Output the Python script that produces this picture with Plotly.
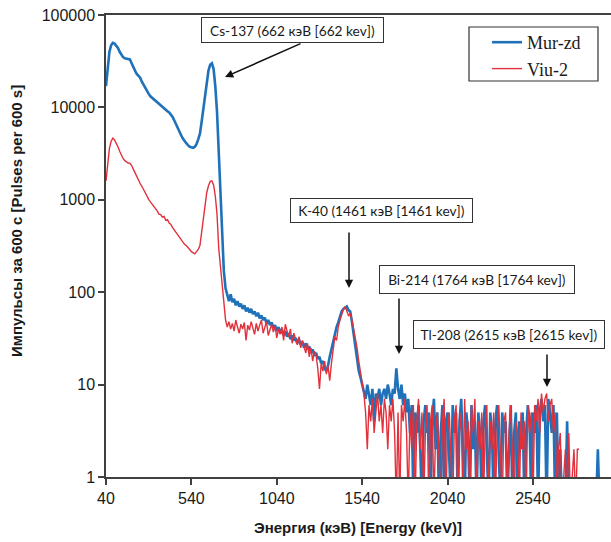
import plotly.graph_objects as go

# ---------------- data ----------------
energy_kev = list(range(40, 2950, 10))   # channel energies, keV

mur_low = [17000, 28000, 40000, 47000, 50000, 49000, 47000, 44000, 40000, 37000,
           35000, 34000, 33500, 33500, 33000, 30000, 27000, 25000, 23000, 22000,
           21000, 19000, 17500, 16000, 15000, 14000, 13200, 12700, 12200, 11700,
           11200, 10800, 10400, 10000, 9700, 9400, 9100, 8800, 8400, 7900,
           7200, 6500, 5900, 5400, 5000, 4600, 4300, 4100, 3900, 3750,
           3700, 3650, 3750, 4000, 4500, 5200, 7000, 10000, 14000, 19500,
           25000, 29000, 30000, 26000, 17000, 9000, 3200, 1100, 330, 170,
           110]
mur_mid = [92, 80, 95, 78, 85, 72, 80, 70, 75, 66,
           72, 62, 68, 60, 66, 58, 62, 55, 60, 52,
           56, 50, 53, 46, 50, 44, 47, 41, 44, 38,
           42, 36, 40, 34, 38, 33, 36, 31, 34, 30,
           32, 28, 31, 27, 29, 25, 28, 24, 26, 22,
           24, 21, 22, 19, 20, 17, 18, 15, 14, 16,
           20, 24, 30, 36, 42, 47, 55, 62, 66, 68,
           70, 64, 62, 48, 35, 25, 18, 14, 12, 10]
mur_high = [9, 7, 10, 8, 6, 9, 4, 8, 7, 9,
            6, 8, 9, 7, 10, 8, 6, 9, 8, 15,
            9, 7, 10, 6, 8, 5, 7, 3, 6, 0,
            5, 3, 6, 2, 0, 4, 6, 3, 5, 0,
            4, 7, 2, 5, 0, 3, 6, 0, 4, 5,
            2, 0, 6, 3, 5, 0, 4, 7, 2, 0,
            5, 3, 0, 6, 2, 4, 0, 5, 3, 0,
            4, 6, 2, 0, 5, 3, 0, 4, 6, 1,
            0, 5, 3, 4, 0, 2, 6, 0, 3, 5,
            0, 4, 2, 5, 0, 3, 6, 4, 0, 5,
            3, 6, 0, 5, 7, 4, 6, 0, 7, 5,
            3, 6, 0, 5, 0, 2, 0, 0, 0, 4,
            0, 0, 0, 1, 0, 0, 0, 0, 0, 0,
            0, 0, 0, 0, 0, 0, 0, 2, 0, 0]

viu_low = [1600, 2600, 3600, 4300, 4650, 4450, 4150, 3750, 3350, 3050,
           2800, 2650, 2550, 2500, 2480, 2350, 2150, 1950, 1780, 1620,
           1500, 1400, 1280, 1180, 1100, 1010, 950, 900, 840, 800,
           760, 700, 690, 650, 660, 600, 610, 560, 540, 500,
           470, 440, 420, 400, 370, 350, 330, 320, 300, 290,
           275, 265, 260, 275, 290, 320, 450, 680, 930, 1200,
           1420, 1580, 1600, 1450, 1100, 700, 300, 190, 120, 75,
           50]
viu_mid = [42, 48, 40, 46, 38, 50, 42, 36, 45, 40,
           47, 30, 44, 39, 48, 41, 35, 46, 38, 44,
           50, 36, 42, 48, 34, 40, 45, 37, 43, 32,
           40, 35, 42, 30, 45, 38, 33, 40, 28, 36,
           31, 27, 33, 25, 30, 26, 22, 28, 20, 25,
           18, 23, 21, 15, 9, 17, 14, 18, 13, 16,
           11, 17, 24, 33, 30, 42, 50, 58, 65, 70,
           62, 56, 58, 50, 40, 32, 25, 18, 14, 10]
viu_high = [8, 5, 2, 6, 4, 7, 3, 5, 8, 4,
            6, 3, 7, 5, 2, 6, 4, 7, 3, 0,
            5, 0, 6, 4, 7, 3, 0, 5, 2, 6,
            0, 4, 7, 2, 5, 0, 3, 6, 0, 4,
            6, 0, 3, 5, 2, 0, 4, 7, 0, 3,
            5, 2, 0, 4, 6, 0, 3, 5, 0, 7,
            2, 4, 0, 6, 3, 7, 0, 4, 2, 5,
            0, 3, 6, 0, 4, 2, 5, 0, 3, 6,
            2, 0, 4, 5, 0, 3, 6, 2, 0, 4,
            3, 0, 5, 2, 4, 0, 6, 3, 5, 0,
            6, 4, 7, 3, 8, 5, 7, 8, 4, 6,
            7, 3, 5, 0, 2, 3, 0, 1, 2, 0,
            3, 0, 1, 2, 0, 2, 2, None, None, None,
            None, None, None, None, None, None, None, None, None, None]

x_ticks = [40, 540, 1040, 1540, 2040, 2540]
y_ticks = [1, 10, 100, 1000, 10000, 100000]
y_tick_labels = ["1", "10", "100", "1000", "10000", "100000"]

series_names = ["Mur-zd", "Viu-2"]
peak_labels = ["Cs-137 (662 кэВ [662 kev])", "K-40 (1461 кэВ [1461 kev])",
               "Bi-214 (1764 кэВ [1764 kev])", "Tl-208 (2615 кэВ [2615 kev])"]

# ---------------- figure ----------------
mur = mur_low + mur_mid + mur_high
viu = viu_low + viu_mid + viu_high
assert len(mur) == len(energy_kev) and len(viu) == len(energy_kev)

def for_log(vals):
    # zero counts are drawn below the bottom of the log axis
    return [None if v is None else (v if v > 0 else 0.5) for v in vals]

W, H = 611, 542
L, R, T, B = 106, 0, 15, 65
XR = [40, 2997]

def px(x):
    return (x - L) / (W - L - R)

def py(y):
    return (H - B - y) / (H - T - B)

fig = go.Figure()
fig.add_trace(go.Scatter(x=energy_kev, y=for_log(mur), mode="lines", name=series_names[0],
                         line=dict(color="#1F72BA", width=2.6)))
fig.add_trace(go.Scatter(x=energy_kev, y=for_log(viu), mode="lines", name=series_names[1],
                         line=dict(color="#E2313B", width=1.4)))

tick_font = dict(family="Liberation Sans, Arial, sans-serif", size=16, color="#1a1a1a")
fig.update_xaxes(range=XR, tickvals=x_ticks, ticks="outside", ticklen=6, tickwidth=1.5,
                 tickcolor="#404040", showline=True, linecolor="#404040", linewidth=1.5,
                 mirror=True, showgrid=False, zeroline=False, tickfont=tick_font)
fig.update_yaxes(type="log", range=[0, 5], tickvals=y_ticks, ticktext=y_tick_labels,
                 ticks="outside", ticklen=6, tickwidth=1.5, tickcolor="#404040",
                 showline=True, linecolor="#404040", linewidth=1.5, showgrid=False,
                 zeroline=False, tickfont=tick_font)

annots = []
# axis titles
annots.append(dict(text="<b>Энергия (кэВ) [Energy (keV)]</b>", xref="paper", yref="paper",
                   x=px(358), y=py(527), showarrow=False, xanchor="center", yanchor="middle",
                   font=dict(family="Liberation Sans, Arial, sans-serif", size=15, color="#1a1a1a")))
annots.append(dict(text="<b>Импульсы за 600 с [Pulses per 600 s]</b>", xref="paper", yref="paper",
                   x=px(16), y=py(221), showarrow=False, textangle=-90, xanchor="center",
                   yanchor="middle",
                   font=dict(family="Liberation Sans, Arial, sans-serif", size=15, color="#1a1a1a")))

# label boxes (centre px, width, height)
boxes = [(292, 30, 183, 26), (381, 211, 183, 25), (477, 279, 196, 29), (509, 334, 192, 29)]
for text, (cx, cy, w, h) in zip(peak_labels, boxes):
    annots.append(dict(text=text, xref="paper", yref="paper", x=px(cx), y=py(cy),
                       xanchor="center", yanchor="middle", showarrow=False,
                       width=w - 2, height=h - 2, borderpad=0, bordercolor="#333333",
                       borderwidth=1, bgcolor="white",
                       font=dict(family="Lato, Carlito, sans-serif", size=13.7, color="#1a1a1a")))

# arrows: (tail px, head px)
arrows = [((302, 43), (225, 77)), ((349, 231), (349, 288)),
          ((399, 297), (399, 354)), ((547, 353), (547, 387))]
for (tx, ty), (hx, hy) in arrows:
    annots.append(dict(text="", xref="paper", yref="paper", x=px(hx), y=py(hy),
                       axref="pixel", ayref="pixel", ax=tx - hx, ay=ty - hy,
                       showarrow=True, arrowhead=2, arrowsize=1.1, arrowwidth=1.5,
                       arrowcolor="#111111", standoff=0, startstandoff=0))

fig.update_layout(
    width=W, height=H,
    margin=dict(l=L, r=R, t=T, b=B, pad=0),
    paper_bgcolor="white", plot_bgcolor="white",
    annotations=annots,
    showlegend=True,
    legend=dict(x=px(487), y=py(24), xanchor="left", yanchor="top",
                bgcolor="rgba(0,0,0,0)", borderwidth=0,
                font=dict(family="Liberation Serif, Times New Roman, serif", size=18, color="#1a1a1a"),
                tracegroupgap=2, itemwidth=30),
    shapes=[dict(type="rect", xref="paper", yref="paper", x0=px(469), x1=px(598),
                 y0=py(81), y1=py(27), line=dict(color="#333333", width=1.2),
                 fillcolor="white", layer="below")],
)

fig.write_html("out.html", config={"displayModeBar": False},
               post_script="document.body.style.margin='0px';document.body.style.padding='0px';")
